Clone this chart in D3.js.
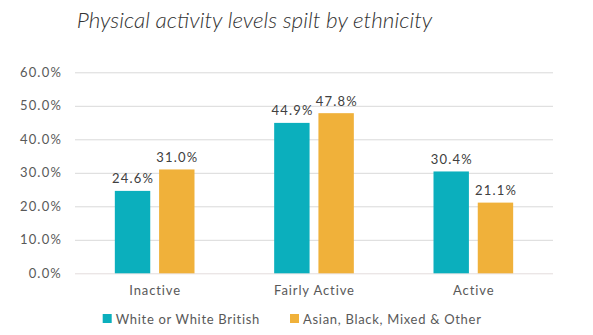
<!DOCTYPE html>
<html>
<head>
<meta charset="utf-8">
<script src="https://cdn.jsdelivr.net/npm/d3@7"></script>
<style>
  body { margin: 0; background: #fff; }
  text { font-family: Lato, "Open Sans", sans-serif; }
</style>
</head>
<body>
<div class="chart"></div>
<script>
const CATEGORIES = ["Inactive", "Fairly Active", "Active"]
const SERIES = ["White or White British", "Asian, Black, Mixed & Other"]
const WHITE_VALUES = [24.6, 44.9, 30.4]
const OTHER_VALUES = [31.0, 47.8, 21.1]
const Y_TICKS = [0, 10, 20, 30, 40, 50, 60]
const COLORS = ["#0bafbd", "#f0b13a"]
const TITLE = "Physical activity levels spilt by ethnicity"

const WIDTH = 593, HEIGHT = 335
const LEFT = 75, RIGHT = 553, TOP = 72.3, BOTTOM = 273.3

let svg = d3.select(".chart").append("svg").attr("width", WIDTH).attr("height", HEIGHT)

// title
svg.append("text").attr("x", 254.5).attr("y", 28).attr("text-anchor", "middle")
  .attr("font-size", 22.5).attr("font-style", "italic").attr("font-weight", 300).attr("fill", "#333")
  .attr("letter-spacing", 0).text(TITLE)

// scales
let yScale = d3.scaleLinear().domain([0, 60]).range([BOTTOM, TOP])
let x0 = d3.scaleBand().domain(CATEGORIES).range([LEFT, RIGHT]).padding(0)
let x1 = d3.scaleBand().domain(SERIES).range([0, x0.bandwidth()]).paddingInner(0.2).paddingOuter(0.9)

// gridlines
svg.append("g").selectAll("line").data(Y_TICKS).join("line")
  .attr("x1", LEFT).attr("x2", RIGHT)
  .attr("y1", d => yScale(d) + 0.5).attr("y2", d => yScale(d) + 0.5)
  .attr("stroke", d => d === 0 ? "#e3dcdc" : "#d9d9d9").attr("stroke-width", 1)

// y axis labels
let leftAxis = d3.axisLeft(yScale).tickValues(Y_TICKS).tickFormat(d => d.toFixed(1) + "%").tickSize(0).tickPadding(0)
let yAxis = svg.append("g").attr("transform", `translate(62, 0)`).call(leftAxis)
yAxis.select(".domain").remove()
yAxis.selectAll("text").attr("font-size", 13).attr("fill", "#595959").attr("font-family", "Lato, sans-serif")
  .attr("letter-spacing", 1.2)

// bars
let rows = CATEGORIES.map((c, i) => ({ cat: c, vals: [WHITE_VALUES[i], OTHER_VALUES[i]] }))
let groups = svg.append("g").selectAll("g").data(rows).join("g")
  .attr("transform", d => `translate(${x0(d.cat)}, 0)`)

groups.selectAll("rect").data(d => d.vals.map((v, j) => ({ s: SERIES[j], v: v, j: j }))).join("rect")
  .attr("x", d => x1(d.s)).attr("width", x1.bandwidth())
  .attr("y", d => yScale(d.v)).attr("height", d => BOTTOM - yScale(d.v))
  .attr("fill", d => COLORS[d.j])

groups.selectAll("text.val").data(d => d.vals.map((v, j) => ({ s: SERIES[j], v: v }))).join("text")
  .attr("class", "val")
  .attr("x", d => x1(d.s) + x1.bandwidth() / 2 + 0.6).attr("y", d => yScale(d.v) - 7.5)
  .attr("text-anchor", "middle").attr("font-size", 13).attr("fill", "#404040")
  .attr("letter-spacing", 1.2)
  .text(d => d.v.toFixed(1) + "%")

// x axis labels
let bottomAxis = d3.axisBottom(x0).tickSize(0).tickPadding(0)
let xAxis = svg.append("g").attr("transform", `translate(0.45, 286)`).call(bottomAxis)
xAxis.select(".domain").remove()
xAxis.selectAll("text").attr("font-size", 13).attr("fill", "#595959").attr("font-family", "Lato, sans-serif")
  .attr("letter-spacing", 0.9)

// legend
let legendX = [102.7, 290]
let legend = svg.append("g").selectAll("g").data(SERIES).join("g")
  .attr("transform", (d, i) => `translate(${legendX[i]}, 314)`)
legend.append("rect").attr("width", 9).attr("height", 9).attr("fill", (d, i) => COLORS[i])
legend.append("text").attr("x", 13).attr("y", 9.5).attr("font-size", 13).attr("fill", "#595959")
  .attr("letter-spacing", 0.7).text(d => d)
</script>
</body>
</html>
